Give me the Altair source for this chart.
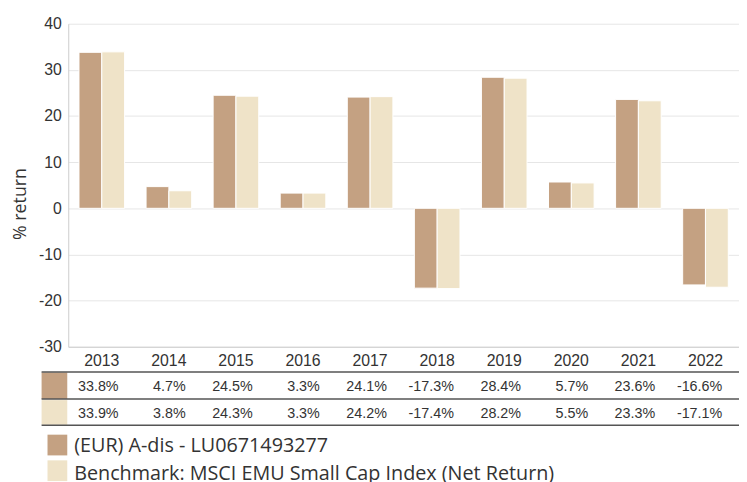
import altair as alt
import pandas as pd

years = ["2013", "2014", "2015", "2016", "2017", "2018", "2019", "2020", "2021", "2022"]
series = ["(EUR) A-dis - LU0671493277", "Benchmark: MSCI EMU Small Cap Index (Net Return)"]
fund = [33.8, 4.7, 24.5, 3.3, 24.1, -17.3, 28.4, 5.7, 23.6, -16.6]
bench = [33.9, 3.8, 24.3, 3.3, 24.2, -17.4, 28.2, 5.5, 23.3, -17.1]
colors = ["#c4a182", "#efe3c8"]

rows = []
for s, vals in zip(series, [fund, bench]):
    for y, v in zip(years, vals):
        rows.append({"year": y, "series": s, "value": v, "label": f"{v:.1f}%"})
df = pd.DataFrame(rows)
sdf = pd.DataFrame({"series": series})

W, H = 679, 327
color_scale = alt.Scale(domain=series, range=colors)

base = alt.Chart(df)

bars = base.mark_bar(stroke="#ffffff", strokeWidth=1).encode(
    x=alt.X("year:O", sort=years,
            scale=alt.Scale(paddingInner=0.32, paddingOuter=0.16),
            axis=alt.Axis(title=None, labelAngle=0, labelFontSize=16, labelColor="#333333",
                          labelFont="Liberation Sans", ticks=False, labelPadding=6,
                          domainColor="#cccccc", domainWidth=1)),
    xOffset=alt.XOffset("series:N", sort=series, scale=alt.Scale(paddingInner=0, paddingOuter=0)),
    y=alt.Y("value:Q", scale=alt.Scale(domain=[-30, 40], nice=False),
            axis=alt.Axis(values=list(range(-30, 41, 10)), title="% return",
                          titleFont="Open Sans", titleFontSize=18, titleFontWeight="normal",
                          titleColor="#333333", titleX=-48, titleY=182, titleAngle=-90,
                          titleAlign="center", titleBaseline="middle",
                          labelFontSize=16, labelColor="#333333", labelFont="Liberation Sans",
                          labelExpr="'' + datum.value", ticks=False, labelPadding=7,
                          gridColor="#e6e6e6", domainColor="#cccccc")),
    color=alt.Color("series:N", scale=color_scale, legend=None),
)

layers = [bars]

row_text_y = [368, 395]
row_swatch = [(353, 380), (381, 406)]
legend_swatch = [(416, 437), (442, 463)]
legend_text_y = [428, 456]

for i, s in enumerate(series):
    layers.append(
        base.transform_filter(alt.datum.series == s).mark_text(
            align="right", baseline="middle", dx=17, fontSize=14.5,
            font="Liberation Sans", color="#333333").encode(
            x=alt.X("year:O", sort=years), text="label:N", y=alt.value(row_text_y[i]))
    )
    one = alt.Chart(sdf).transform_filter(alt.datum.series == s)
    layers.append(
        one.mark_rect().encode(
            x=alt.value(-27), x2=alt.value(-1),
            y=alt.value(row_swatch[i][0]), y2=alt.value(row_swatch[i][1]),
            color=alt.Color("series:N", scale=color_scale, legend=None))
    )
    layers.append(
        one.mark_rect().encode(
            x=alt.value(-21), x2=alt.value(-1),
            y=alt.value(legend_swatch[i][0]), y2=alt.value(legend_swatch[i][1]),
            color=alt.Color("series:N", scale=color_scale, legend=None))
    )
    layers.append(
        one.mark_text(align="left", baseline="middle", fontSize=20, font="Open Sans",
                      color="#333333").encode(
            x=alt.value(6), y=alt.value(legend_text_y[i]), text="series:N")
    )

for ly in [352.5, 380, 406.5]:
    layers.append(
        alt.Chart(sdf.head(1)).mark_rule(color="#555555", strokeWidth=1.5).encode(
            x=alt.value(-27), x2=alt.value(W), y=alt.value(ly))
    )

chart = alt.layer(*layers).properties(
    width=W, height=H,
    autosize=alt.AutoSizeParams(type="none"),
    padding={"left": 61, "top": 13, "right": 0, "bottom": 134},
).configure_view(stroke=None)

chart.save("out.html", embed_options={"renderer": "svg", "actions": False})
